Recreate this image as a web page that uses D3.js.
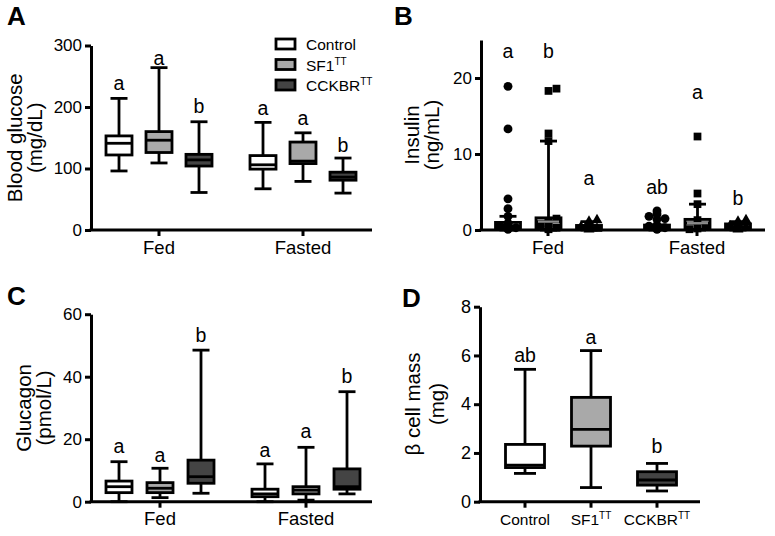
<!DOCTYPE html>
<html><head><meta charset="utf-8">
<script src="https://cdn.jsdelivr.net/npm/d3@7"></script>
<style>body{margin:0;background:#fff}</style>
</head><body><svg id="c" width="775" height="536"></svg>
<script>
// ---------- DATA ----------
const groups = ["Control", "SF1", "CCKBR"];
const groupSup = ["", "TT", "TT"];
const conditions = ["Fed", "Fasted"];

// Panel A: blood glucose (mg/dL), [min, q1, median, q3, max]
const glucoseFed = [[96, 122, 141, 153, 214], [109, 126, 146, 160, 264], [61, 104, 114, 123, 176]];
const glucoseFasted = [[67, 99, 106, 121, 175], [79, 108, 112, 143, 158], [60, 81, 86, 94, 117]];
const glucoseLetters = [["a", "a", "b"], ["a", "a", "b"]];
const glucoseLetterAt = [[228, 268, 190], [187, 171, 127]];
const glucoseTicks = [0, 100, 200, 300];

// Panel B: insulin (ng/mL), [min, q1, median, q3, max] + plotted points
const insulinFed = [[0, 0.1, 0.5, 1.0, 1.8], [0, 0.1, 1.1, 1.6, 11.7], [0, 0.05, 0.3, 0.6, 1.1]];
const insulinFasted = [[0, 0.05, 0.3, 0.65, 0.65], [0, 0.1, 0.9, 1.4, 3.4], [0, 0.05, 0.4, 0.8, 1.1]];
const insulinFedPoints = [
  [1.8, 2.8, 4.1, 13.3, 18.9, 0.1, 0.3, 0.5, 0.7, 0.9, 0.2, 0.6],
  [11.7, 12.7, 18.3, 18.6, 0.1, 0.3, 0.6, 0.9, 1.2, 1.5, 0.2],
  [1.1, 1.3, 0.1, 0.2, 0.4, 0.6, 0.3]];
const insulinFastedPoints = [
  [1.4, 2.5, 1.5, 1.8, 2.1, 0.1, 0.3, 0.5, 0.6, 0.2],
  [3.4, 4.8, 12.3, 0.2, 0.5, 1.3, 0.1],
  [1.1, 1.3, 0.1, 0.3, 0.5, 0.8, 0.2]];
const insulinLetters = [["a", "b", "a"], ["ab", "a", "b"]];
const insulinLetterAt = [[22.6, 22.6, 5.9], [4.8, 17.3, 3.3]];
const insulinTicks = [0, 10, 20];

// Panel C: glucagon (pmol/L)
const glucagonFed = [[0, 2.9, 4.8, 6.6, 12.8], [1.3, 2.9, 4.3, 6.1, 10.7], [2.7, 5.9, 8.0, 13.3, 48.5]];
const glucagonFasted = [[0, 1.6, 2.5, 4.0, 12.1], [0.5, 2.5, 3.7, 4.8, 17.4], [2.5, 4.0, 4.8, 10.5, 35.2]];
const glucagonLetters = [["a", "a", "b"], ["a", "a", "b"]];
const glucagonLetterAt = [[15.5, 12.8, 51.2], [14.4, 20.3, 37.9]];
const glucagonTicks = [0, 20, 40, 60];

// Panel D: beta cell mass (mg)
const betaMass = [[1.16, 1.4, 1.5, 2.35, 5.43], [0.58, 2.28, 2.97, 4.28, 6.2], [0.44, 0.68, 0.89, 1.23, 1.57]];
const betaLetters = ["ab", "a", "b"];
const betaLetterAt = [5.74, 6.47, 1.98];
const betaTicks = [0, 2, 4, 6, 8];

// ---------- STYLE ----------
const FONT = "'Liberation Sans', Arial, Helvetica, sans-serif";
const FILL = ["#ffffff", "#a9a9a9", "#444444"];
const SW = 2.8;
const svg = d3.select("#c").attr("font-family", FONT);

function yAxis(y, ticks, x0, fs) {
  const g = svg.append("g").attr("transform", `translate(${x0},0)`)
    .call(d3.axisLeft(y).tickValues(ticks).tickSize(6).tickSizeOuter(0).tickPadding(3).tickFormat(d3.format("d")));
  g.attr("font-family", FONT).attr("font-size", fs);
  g.select(".domain").attr("stroke-width", 3).attr("stroke", "#000");
  g.selectAll(".tick line").attr("stroke-width", 3).attr("stroke", "#000");
  g.selectAll(".tick text").attr("fill", "#000");
}
function xAxis(x0, x1, y0, positions) {
  svg.append("line").attr("x1", x0 - 1.5).attr("x2", x1).attr("y1", y0).attr("y2", y0)
    .attr("stroke", "#000").attr("stroke-width", 3);
  positions.forEach(p => svg.append("line").attr("x1", p).attr("x2", p).attr("y1", y0).attr("y2", y0 + 6)
    .attr("stroke", "#000").attr("stroke-width", 3));
}
function yTitle(lines, xs, cy, fs) {
  lines.forEach((t, i) => svg.append("text").attr("transform", `translate(${xs[i]},${cy}) rotate(-90)`)
    .attr("text-anchor", "middle").attr("font-size", fs).text(t));
}
function box(cx, s, y, bw, cw, fill) {
  const g = svg.append("g");
  const [lo, q1, md, q3, hi] = s;
  const ln = (x1, y1, x2, y2) => g.append("line").attr("x1", x1).attr("y1", y1).attr("x2", x2).attr("y2", y2)
    .attr("stroke", "#000").attr("stroke-width", SW);
  ln(cx, y(hi), cx, y(q3)); ln(cx, y(q1), cx, y(lo));
  ln(cx - cw / 2, y(hi), cx + cw / 2, y(hi)); ln(cx - cw / 2, y(lo), cx + cw / 2, y(lo));
  g.append("rect").attr("x", cx - bw / 2).attr("y", y(q3)).attr("width", bw).attr("height", Math.max(0.5, y(q1) - y(q3)))
    .attr("fill", fill).attr("stroke", "#000").attr("stroke-width", SW);
  ln(cx - bw / 2, y(md), cx + bw / 2, y(md));
}
function letter(x, yv, t, fs) {
  svg.append("text").attr("x", x).attr("y", yv).attr("text-anchor", "middle").attr("font-size", fs).text(t);
}
function panelLabel(t, x, y) {
  svg.append("text").attr("x", x).attr("y", y).attr("font-size", 26).attr("font-weight", "bold").text(t);
}
function supText(sel, main, sup, supSize) {
  sel.append("tspan").text(main);
  if (sup) sel.append("tspan").attr("dy", -6).attr("font-size", supSize).text(sup);
}
function swarm(values, y, cx, r) {
  const placed = [];
  const steps = [0, 1, -1];
  return values.map(v => {
    const py = y(v);
    for (const s of steps) {
      const px = cx + s * 2 * r;
      if (placed.every(p => Math.hypot(p[0] - px, p[1] - py) >= 1.75 * r)) { placed.push([px, py]); return [px, py]; }
    }
    placed.push([cx, py]); return [cx, py];
  });
}

// grouped panel (A, B, C)
function groupedPanel(o) {
  const xc = d3.scalePoint().domain(conditions).range(o.condRange);
  const xg = d3.scalePoint().domain(groups).range(o.grpRange);
  const y = d3.scaleLinear().domain(o.domain).range(o.yRange);
  yAxis(y, o.ticks, o.axisX, 17);
  xAxis(o.axisX, o.axisEnd, o.yRange[0], conditions.map(c => xc(c)));
  conditions.forEach(c => svg.append("text").attr("x", xc(c)).attr("y", o.yRange[0] + 23.5)
    .attr("text-anchor", "middle").attr("font-size", 18.5).text(c));
  const stats = [o.fed, o.fasted];
  stats.forEach((arr, ci) => arr.forEach((s, gi) => {
    const cx = xc(conditions[ci]) + xg(groups[gi]);
    box(cx, s, y, o.bw, o.cw, FILL[gi]);
    letter(cx, y(o.letterAt[ci][gi]), o.letters[ci][gi], 19.5);
  }));
  if (o.points) {
    const shapes = [d3.symbolCircle, d3.symbolSquare, d3.symbolTriangle];
    const sizes = [62, 60, 52];
    o.points.forEach((arr, ci) => arr.forEach((vals, gi) => {
      const cx = xc(conditions[ci]) + xg(groups[gi]);
      swarm(vals, y, cx, 4).forEach(([px, py]) => svg.append("path")
        .attr("d", d3.symbol(shapes[gi], sizes[gi])()).attr("transform", `translate(${px},${py})`).attr("fill", "#000"));
      if (gi === 1) {
        const md = stats[ci][gi][2];
        svg.append("line").attr("x1", cx - o.bw / 2 + 2).attr("x2", cx + o.bw / 2 - 2).attr("y1", y(md)).attr("y2", y(md))
          .attr("stroke", "#8c8c8c").attr("stroke-width", 2.2);
      }
    }));
  }
  yTitle(o.title, o.titleX, (o.yRange[0] + o.yRange[1]) / 2, 20.5);
}

// Panel A
groupedPanel({condRange: [159, 303], grpRange: [-40, 40], domain: [0, 300], yRange: [230, 45.5],
  ticks: glucoseTicks, axisX: 91, axisEnd: 372, bw: 26, cw: 17,
  fed: glucoseFed, fasted: glucoseFasted, letters: glucoseLetters, letterAt: glucoseLetterAt,
  title: ["Blood glucose", "(mg/dL)"], titleX: [22, 42]});
panelLabel("A", 7, 25);
// legend
groups.forEach((gname, i) => {
  const ly = 44 + i * 20.5;
  svg.append("rect").attr("x", 276).attr("y", ly - 5).attr("width", 19).attr("height", 10)
    .attr("fill", FILL[i]).attr("stroke", "#000").attr("stroke-width", SW);
  supText(svg.append("text").attr("x", 306).attr("y", ly + 6).attr("font-size", 15.5), gname, groupSup[i], 10);
});

// Panel B
groupedPanel({condRange: [548, 697], grpRange: [-40, 41], domain: [0, 25], yRange: [230, 40],
  ticks: insulinTicks, axisX: 481, axisEnd: 765, bw: 25, cw: 17,
  fed: insulinFed, fasted: insulinFasted, letters: insulinLetters, letterAt: insulinLetterAt,
  points: [insulinFedPoints, insulinFastedPoints],
  title: ["Insulin", "(ng/mL)"], titleX: [419, 439]});
panelLabel("B", 394, 25);

// Panel C
groupedPanel({condRange: [160, 306], grpRange: [-41, 41], domain: [0, 60], yRange: [501.7, 314.2],
  ticks: glucagonTicks, axisX: 91, axisEnd: 372, bw: 26, cw: 17,
  fed: glucagonFed, fasted: glucagonFasted, letters: glucagonLetters, letterAt: glucagonLetterAt,
  title: ["Glucagon", "(pmol/L)"], titleX: [31, 51]});
panelLabel("C", 7, 305);

// Panel D
{
  const x = d3.scalePoint().domain(groups).range([525, 657]);
  const y = d3.scaleLinear().domain([0, 8]).range([501.7, 306.7]);
  yAxis(y, betaTicks, 480, 18);
  xAxis(480, 700, 501.7, groups.map(g => x(g)));
  groups.forEach((g, i) => {
    box(x(g), betaMass[i], y, 39, 22, FILL[i]);
    letter(x(g), y(betaLetterAt[i]), betaLetters[i], 19.5);
    supText(svg.append("text").attr("x", x(g)).attr("y", 525).attr("text-anchor", "middle").attr("font-size", 15.5),
      g, groupSup[i], 10);
  });
  yTitle(["\u03B2 cell mass", "(mg)"], [420, 444], 404, 20.5);
  panelLabel("D", 402, 307);
}
</script></body></html>
